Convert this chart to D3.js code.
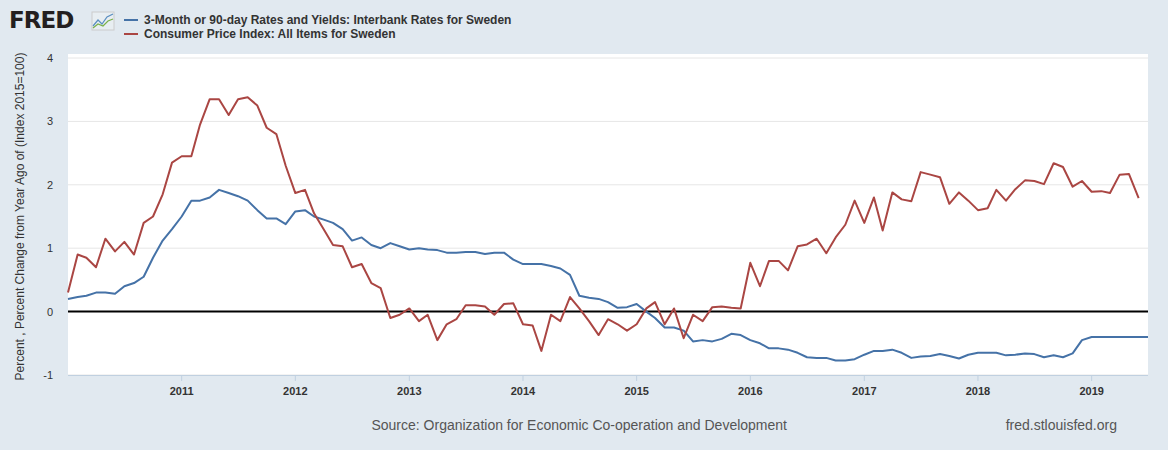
<!DOCTYPE html>
<html><head><meta charset="utf-8">
<script src="https://cdn.jsdelivr.net/npm/d3@7"></script>
<style>body{margin:0;background:#e1e9f0;font-family:"Liberation Sans",Arial,sans-serif}</style>
</head><body><svg width="1168" height="450"></svg>
<script>
const rateSeries = [0.2,0.23,0.25,0.3,0.3,0.28,0.4,0.45,0.55,0.85,1.12,1.3,
1.5,1.75,1.75,1.8,1.92,1.87,1.82,1.75,1.6,1.47,1.47,1.38,
1.58,1.6,1.5,1.45,1.4,1.3,1.12,1.17,1.05,1.0,1.08,1.03,
0.98,1.0,0.98,0.97,0.93,0.93,0.94,0.94,0.91,0.93,0.93,0.82,
0.75,0.75,0.75,0.72,0.68,0.58,0.25,0.22,0.2,0.15,0.06,0.07,
0.12,0.0,-0.1,-0.25,-0.25,-0.3,-0.47,-0.45,-0.47,-0.43,-0.35,-0.37,
-0.45,-0.5,-0.58,-0.58,-0.6,-0.65,-0.72,-0.73,-0.73,-0.77,-0.77,-0.75,
-0.68,-0.62,-0.62,-0.6,-0.65,-0.73,-0.71,-0.7,-0.67,-0.7,-0.74,-0.68,
-0.65,-0.65,-0.65,-0.69,-0.68,-0.66,-0.67,-0.72,-0.69,-0.72,-0.66,-0.45,
-0.4,-0.4,-0.4,-0.4,-0.4,-0.4,-0.4];
const cpiSeries = [0.3,0.9,0.85,0.7,1.15,0.95,1.1,0.9,1.4,1.5,1.85,2.35,
2.45,2.45,2.95,3.35,3.35,3.1,3.35,3.38,3.25,2.9,2.8,2.3,
1.87,1.92,1.55,1.3,1.05,1.03,0.7,0.75,0.45,0.37,-0.1,-0.05,
0.05,-0.15,-0.05,-0.45,-0.2,-0.12,0.1,0.1,0.08,-0.05,0.12,0.13,
-0.2,-0.22,-0.62,-0.05,-0.15,0.23,0.05,-0.15,-0.37,-0.12,-0.2,-0.3,
-0.2,0.05,0.15,-0.2,0.05,-0.42,-0.05,-0.15,0.07,0.08,0.06,0.05,
0.77,0.4,0.8,0.8,0.65,1.03,1.06,1.15,0.92,1.17,1.37,1.75,
1.4,1.8,1.28,1.88,1.77,1.74,2.2,2.16,2.12,1.7,1.88,1.75,
1.6,1.63,1.92,1.75,1.93,2.07,2.06,2.01,2.34,2.28,1.97,2.06,
1.89,1.9,1.87,2.16,2.17,1.79];
const yTicks = [-1,0,1,2,3,4];
const yearTicks = d3.range(2011,2020);
const legendLabels = ["3-Month or 90-day Rates and Yields: Interbank Rates for Sweden","Consumer Price Index: All Items for Sweden"];
const colors = ["#4572a7","#aa4643"];

const svg = d3.select('svg');
const pL = 68, pR = 1148, pT = 58, pB = 375;
const months = d => new Date(2010, d, 1);
const x = d3.scaleTime().domain([new Date(2010,0,1), new Date(2019,6,1)]).range([pL, pR]);
const y = d3.scaleLinear().domain([-1,4]).range([pB, pT]);

svg.append('rect').attr('x', pL).attr('y', pT - 4).attr('width', pR - pL).attr('height', pB - pT + 4).attr('fill', '#fff');

svg.append('g').selectAll('line').data(yTicks.filter(t => t !== 0)).enter().append('line')
    .attr('x1', pL).attr('x2', pR).attr('y1', d => y(d)).attr('y2', d => y(d))
    .attr('stroke', '#e6e6e6');

svg.append('g').selectAll('text').data(yTicks).enter().append('text')
    .attr('x', 53).attr('y', d => y(d) + 4).attr('text-anchor', 'end')
    .attr('font-size', 11).attr('fill', '#333').text(d => d);

svg.append('line').attr('x1', pL).attr('x2', pR).attr('y1', pB + 0.5).attr('y2', pB + 0.5).attr('stroke', '#c0d0e0');
svg.append('g').selectAll('line').data(yearTicks).enter().append('line')
    .attr('x1', d => x(new Date(d,0,1))).attr('x2', d => x(new Date(d,0,1)))
    .attr('y1', pB).attr('y2', pB + 6).attr('stroke', '#c0d0e0');
svg.append('g').selectAll('text').data(yearTicks).enter().append('text')
    .attr('x', d => x(new Date(d,0,1))).attr('y', 395).attr('text-anchor', 'middle')
    .attr('font-size', 11).attr('font-weight', 'bold').attr('fill', '#333').text(d => d);

svg.append('line').attr('x1', pL).attr('x2', pR).attr('y1', y(0)).attr('y2', y(0))
    .attr('stroke', '#000').attr('stroke-width', 2);

const line = d3.line().x((d, i) => x(months(i))).y(d => y(d));
[rateSeries, cpiSeries].forEach((s, k) => {
    svg.append('path').attr('d', line(s)).attr('fill', 'none')
        .attr('stroke', colors[k]).attr('stroke-width', 2).attr('stroke-linejoin', 'round');
});

svg.append('text').attr('transform', `translate(24, ${(pT + pB) / 2}) rotate(-90)`)
    .attr('text-anchor', 'middle').attr('font-size', 12).attr('fill', '#333')
    .text('Percent , Percent Change from Year Ago of (Index 2015=100)');

// logo
svg.append('text').attr('x', 9).attr('y', 28).attr('font-size', 23).attr('font-weight', 'bold')
    .attr('fill', '#231f20').attr('font-family', 'DejaVu Sans').attr('letter-spacing', -1).text('FRED');
svg.append('rect').attr('x', 92).attr('y', 12).attr('width', 22).attr('height', 18).attr('fill', '#e8eef2').attr('stroke', '#ccc');
svg.append('polyline').attr('points', '93,26 98,20 102,24 107,17 113,14').attr('fill', 'none').attr('stroke', '#5a8ec0').attr('stroke-width', 1.2);
svg.append('polyline').attr('points', '93,28 98,24 103,26 108,21 113,19').attr('fill', 'none').attr('stroke', '#7ab04a').attr('stroke-width', 1.2);

legendLabels.forEach((t, k) => {
    svg.append('line').attr('x1', 124).attr('x2', 138).attr('y1', 20 + k * 14).attr('y2', 20 + k * 14)
        .attr('stroke', colors[k]).attr('stroke-width', 2);
    svg.append('text').attr('x', 144).attr('y', 24 + k * 14).attr('font-size', 12).attr('font-weight', 'bold')
        .attr('fill', '#333').text(t);
});

svg.append('text').attr('x', 787).attr('y', 430).attr('text-anchor', 'end').attr('font-size', 14).attr('fill', '#555')
    .text('Source: Organization for Economic Co-operation and Development');
svg.append('text').attr('x', 1117).attr('y', 430).attr('text-anchor', 'end').attr('font-size', 14).attr('fill', '#555')
    .text('fred.stlouisfed.org');
</script></body></html>
